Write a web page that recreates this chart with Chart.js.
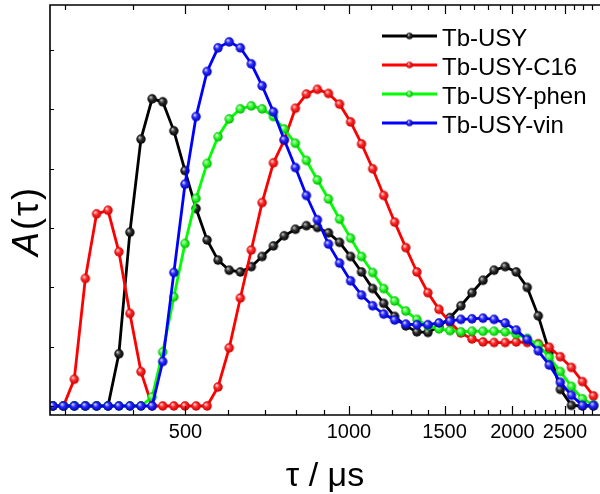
<!DOCTYPE html>
<html>
<head>
<meta charset="utf-8">
<script src="https://cdn.jsdelivr.net/npm/chart.js@4"></script>
<style>
  body { margin: 0; background: #fff; }
  canvas { display: block; }
</style>
</head>
<body>
<canvas id="chartCanvas" width="600" height="494"></canvas>
<script>
// lifetime grid (µs), log spaced as in the measurement
const tau = [285, 298, 312, 327, 343, 360, 377, 395, 414, 434,
             454, 476, 499, 523, 548, 574, 602, 631, 661, 692,
             726, 760, 797, 835, 875, 917, 961, 1007, 1055, 1106,
             1159, 1214, 1273, 1334, 1398, 1465, 1535, 1608, 1685, 1766,
             1851, 1940, 2033, 2130, 2232, 2339, 2451, 2569, 2692, 2821];

// distributions A(tau), arbitrary units (1 unit = one y tick)
const tbUsy = [0, 0, 0, 0, 0, 0, 0.88, 2.93, 4.50, 5.18,
               5.13, 4.64, 3.97, 3.33, 2.80, 2.46, 2.29, 2.26, 2.35, 2.52,
               2.70, 2.87, 2.98, 3.04, 3.01, 2.92, 2.76, 2.52, 2.26, 1.98,
               1.73, 1.51, 1.35, 1.25, 1.24, 1.34, 1.49, 1.69, 1.91, 2.12,
               2.29, 2.35, 2.26, 2.00, 1.52, 0.91, 0.28, 0.01, 0, 0];
const tbUsyC16 = [0, 0, 0.45, 2.15, 3.24, 3.30, 2.60, 1.56, 0.58, 0,
                  0, 0, 0, 0, 0, 0.32, 0.98, 1.82, 2.63, 3.43,
                  4.10, 4.48, 5.02, 5.26, 5.34, 5.27, 5.09, 4.79, 4.42, 4.00,
                  3.55, 3.10, 2.67, 2.26, 1.91, 1.63, 1.41, 1.23, 1.13, 1.08,
                  1.07, 1.07, 1.08, 1.07, 1.05, 0.99, 0.83, 0.65, 0.41, 0.17];
const tbUsyPhen = [0, 0, 0, 0, 0, 0, 0, 0, 0, 0.15,
                   0.91, 1.84, 2.74, 3.50, 4.09, 4.54, 4.84, 5.01, 5.06, 5.01,
                   4.88, 4.67, 4.43, 4.14, 3.81, 3.49, 3.15, 2.83, 2.52, 2.25,
                   1.98, 1.77, 1.60, 1.46, 1.35, 1.30, 1.27, 1.25, 1.26, 1.26,
                   1.26, 1.25, 1.21, 1.14, 1.03, 0.82, 0.58, 0.33, 0.12, 0.02];
const tbUsyVin = [0, 0, 0, 0, 0, 0, 0, 0, 0, 0,
                  0.75, 2.25, 3.74, 4.88, 5.64, 6.04, 6.14, 6.04, 5.77, 5.40,
                  4.96, 4.49, 4.02, 3.55, 3.14, 2.73, 2.41, 2.11, 1.87, 1.69,
                  1.55, 1.45, 1.38, 1.37, 1.37, 1.40, 1.43, 1.46, 1.47, 1.48,
                  1.46, 1.40, 1.28, 1.12, 0.93, 0.69, 0.40, 0.18, 0.01, 0.01];

const seriesNames = ['Tb-USY', 'Tb-USY-C16', 'Tb-USY-phen', 'Tb-USY-vin'];

// axis ticks
const xTicks = [300, 400, 500, 600, 700, 800, 900, 1000, 1100, 1200, 1300, 1400, 1500,
                1600, 1700, 1800, 1900, 2000, 2100, 2200, 2300, 2400, 2500, 2600, 2700, 2800];
const xLabels = [500, 1000, 1500, 2000, 2500];
const yTicks = [0, 1, 2, 3, 4, 5, 6];

const FONT = "'Liberation Sans', Arial, sans-serif";

// little shaded sphere used as marker
function ball(light, base, dark, r) {
    const c = document.createElement('canvas');
    const s = Math.ceil(r * 2) + 2;
    c.width = s;
    c.height = s;
    const g = c.getContext('2d');
    const grad = g.createRadialGradient(s / 2 - r * 0.35, s / 2 - r * 0.4, r * 0.05, s / 2, s / 2, r);
    grad.addColorStop(0, light);
    grad.addColorStop(0.45, base);
    grad.addColorStop(1, dark);
    g.fillStyle = grad;
    g.beginPath();
    g.arc(s / 2, s / 2, r, 0, Math.PI * 2);
    g.fill();
    return c;
}

const styles = [
    {line: '#000000', shade: ['#d0d0d0', '#303030', '#000000']},
    {line: '#ff0000', shade: ['#ffe0e0', '#ff2a2a', '#c80000']},
    {line: '#00ff00', shade: ['#e8ffe8', '#30ff30', '#00b400']},
    {line: '#0000ff', shade: ['#e0e0ff', '#2a2aff', '#0000b4']}
];
styles.forEach(s => {
    s.marker = ball(s.shade[0], s.shade[1], s.shade[2], 4.7);
    s.small = ball(s.shade[0], s.shade[1], s.shade[2], 3.2);
});

const values = [tbUsy, tbUsyC16, tbUsyPhen, tbUsyVin];
const datasets = values.map((vals, i) => ({
    label: seriesNames[i],
    data: vals.map((v, k) => ({x: tau[k], y: v})),
    borderColor: styles[i].line,
    borderWidth: 2.8,
    tension: 0,
    pointStyle: styles[i].marker,
    pointRadius: 4.7,
    order: 4 - i
}));

// box, inward ticks, y title and legend
const decorPlugin = {
    id: 'decor',
    afterDatasetsDraw(chart) {
        const ctx = chart.ctx;
        const a = chart.chartArea;
        const x = chart.scales.x;
        const y = chart.scales.y;
        ctx.save();
        ctx.strokeStyle = '#000';
        ctx.lineWidth = 1.6;
        ctx.beginPath();
        ctx.moveTo(a.right, a.top);
        ctx.lineTo(a.left, a.top);
        ctx.lineTo(a.left, a.bottom);
        ctx.lineTo(a.right, a.bottom);
        ctx.stroke();

        ctx.lineWidth = 1.2;
        ctx.beginPath();
        xTicks.forEach(v => {
            const px = Math.round(x.getPixelForValue(v)) + 0.5;
            const len = xLabels.includes(v) ? 9 : 5;
            ctx.moveTo(px, a.bottom);
            ctx.lineTo(px, a.bottom - len);
            ctx.moveTo(px, a.top);
            ctx.lineTo(px, a.top + len);
        });
        yTicks.forEach(v => {
            const py = Math.round(y.getPixelForValue(v)) + 0.5;
            ctx.moveTo(a.left, py);
            ctx.lineTo(a.left + 4, py);
        });
        ctx.stroke();

        // y title: italic A, upright (τ), a bit spread out
        ctx.fillStyle = '#000';
        ctx.translate(28, 222);
        ctx.rotate(-Math.PI / 2);
        ctx.textBaseline = 'middle';
        const parts = [['A', 'italic 36px '], ['(', '36px '], ['τ', '36px '], [')', '36px ']];
        const gap = 2;
        let total = 0;
        parts.forEach(p => {
            ctx.font = p[1] + FONT;
            p.push(ctx.measureText(p[0]).width);
            total += p[2];
        });
        total += gap * (parts.length - 1);
        let sx = -total / 2;
        parts.forEach(p => {
            ctx.font = p[1] + FONT;
            ctx.fillText(p[0], sx, 0);
            sx += p[2] + gap;
        });
        ctx.restore();

        // legend
        ctx.save();
        ctx.font = '24px ' + FONT;
        ctx.fillStyle = '#000';
        ctx.textBaseline = 'alphabetic';
        seriesNames.forEach((name, i) => {
            const ly = 36 + i * 29;
            ctx.strokeStyle = styles[i].line;
            ctx.lineWidth = 2.8;
            ctx.beginPath();
            ctx.moveTo(382, ly);
            ctx.lineTo(437, ly);
            ctx.stroke();
            const m = styles[i].small;
            ctx.drawImage(m, 409.5 - m.width / 2, ly - m.height / 2);
            ctx.fillText(name, 442, ly + 10);
        });
        ctx.restore();
    }
};

new Chart(document.getElementById('chartCanvas'), {
    type: 'line',
    data: {datasets: datasets},
    options: {
        responsive: false,
        animation: false,
        devicePixelRatio: 1,
        layout: {autoPadding: false, padding: {top: 5, left: 0, right: 0, bottom: 0}},
        plugins: {legend: {display: false}, tooltip: {enabled: false}},
        scales: {
            x: {
                type: 'logarithmic',
                min: 281.5,
                max: 2900,
                grid: {display: false, drawTicks: false},
                border: {display: false},
                afterBuildTicks: scale => { scale.ticks = xTicks.map(v => ({value: v})); },
                afterFit: scale => { scale.height = 79; },
                ticks: {
                    autoSkip: false,
                    maxRotation: 0,
                    padding: 5,
                    color: '#000',
                    font: {family: FONT, size: 20},
                    callback: v => xLabels.includes(v) ? String(v) : ''
                },
                title: {
                    display: true,
                    text: 'τ / μs',
                    color: '#000',
                    font: {family: FONT, size: 34},
                    padding: {top: 0, bottom: -3}
                }
            },
            y: {
                min: -0.152,
                max: 6.762,
                grid: {display: false, drawTicks: false},
                border: {display: false},
                ticks: {display: false},
                afterBuildTicks: scale => { scale.ticks = yTicks.map(v => ({value: v})); },
                afterFit: scale => { scale.width = 50; }
            }
        }
    },
    plugins: [decorPlugin]
});
</script>
</body>
</html>
